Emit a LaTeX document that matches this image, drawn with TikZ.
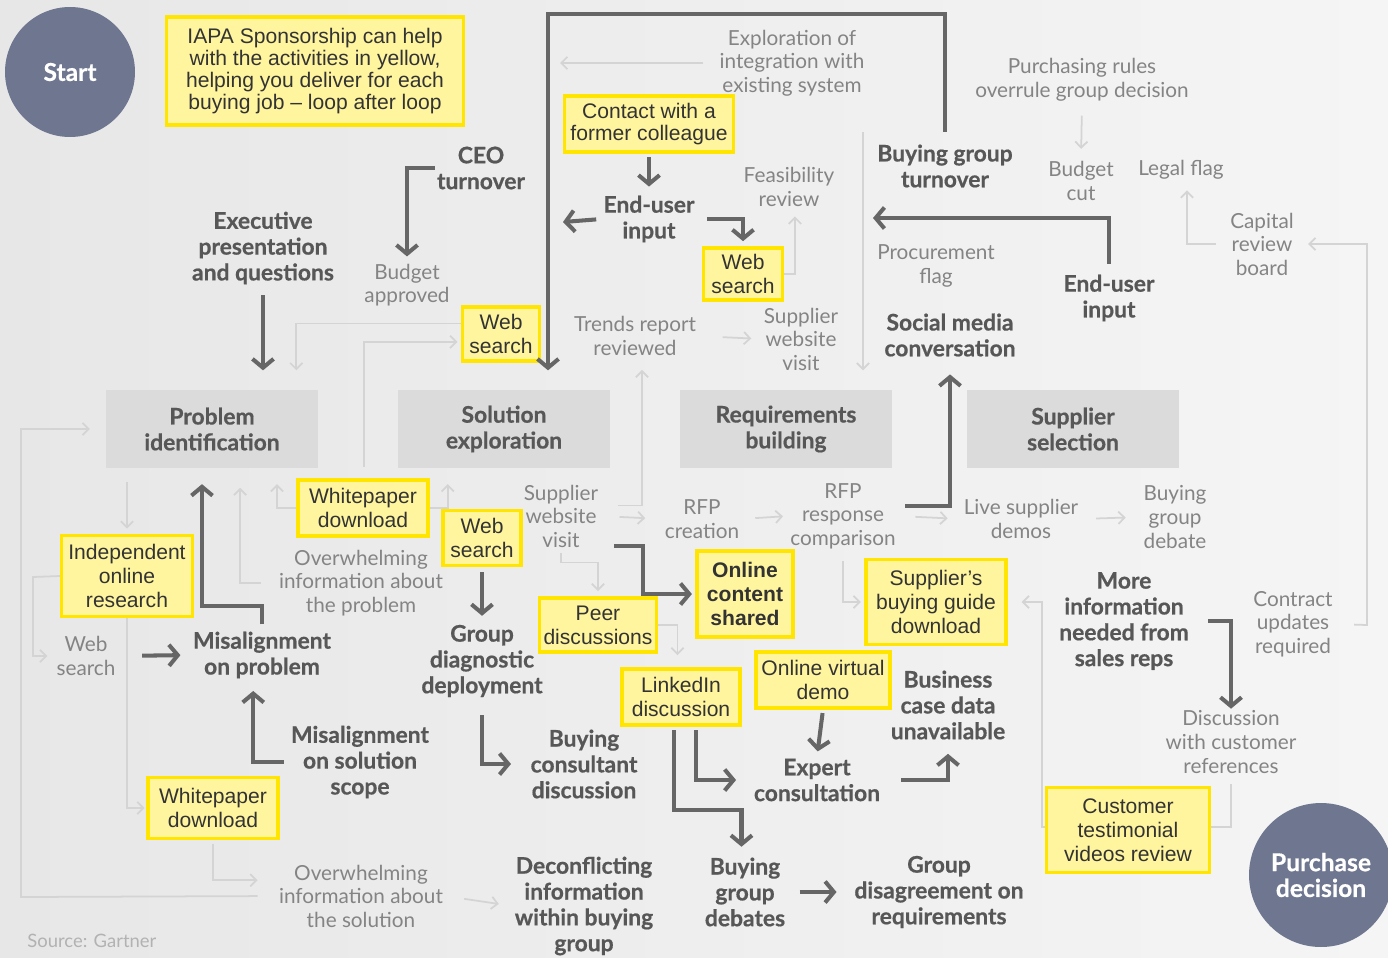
\documentclass[tikz,border=0pt]{standalone}
\usepackage{fontspec}
\setmainfont{Lato}[BoldFeatures={FakeBold=0.6}]
\newfontfamily\boxfont{Liberation Sans}
\usetikzlibrary{arrows.meta, positioning, calc}
\definecolor{BgLeft}{HTML}{E7E7E7}
\definecolor{BgRight}{HTML}{F5F5F5}
\definecolor{TextDark}{HTML}{575757}
\definecolor{TextLight}{HTML}{848484}
\definecolor{ArrowDark}{HTML}{666666}
\definecolor{ArrowFaint}{HTML}{D4D4D4}
\definecolor{StageFill}{HTML}{DBDBDB}
\definecolor{YellowFill}{HTML}{FFF59F}
\definecolor{YellowLine}{HTML}{FFE500}
\definecolor{DotFill}{HTML}{6F7690}
\newcommand{\boldsize}{\fontsize{13}{14.7}\selectfont}
\newcommand{\lightsize}{\fontsize{11.8}{13.4}\selectfont}
\newcommand{\boxsize}{\fontsize{12}{13.6}\selectfont}

\begin{document}
\begin{tikzpicture}[x=0.02cm, y=-0.02cm,
    darr/.style={draw=ArrowDark, line width=2.3pt, -{Straight Barb[length=5pt, width=12pt]}},
    farr/.style={draw=ArrowFaint, line width=1pt, -{Straight Barb[length=3.5pt, width=7pt]}},
    boldlbl/.style={font=\boldsize\bfseries, text=TextDark, align=center, inner sep=1pt},
    lightlbl/.style={font=\lightsize, text=TextLight, align=center, inner sep=1pt},
    stagebox/.style={fill=StageFill, font=\boldsize\bfseries, text=TextDark, align=center,
        minimum width=4.24cm, minimum height=1.56cm},
    yelbox/.style={draw=YellowLine, line width=1.8pt, fill=YellowFill, font=\boxfont\boxsize,
        text=black!80, align=center, inner sep=1pt},
    bigdot/.style={circle, fill=DotFill, text=white, font=\fontsize{14}{14.7}\selectfont\bfseries, align=center},
    srcnote/.style={font=\fontsize{10.5}{12}\selectfont, text=black!30, inner sep=0pt}]
    \useasboundingbox (0,0) rectangle (1388,957);
    \clip (0,0) rectangle (1388,957);
    \fill[left color=BgLeft, right color=BgRight] (0,0) rectangle (1388,957);

    % Start and end
    \node[bigdot, minimum size=2.6cm] (start) at (70,72) {Start};
    \node[bigdot, minimum size=2.88cm] (purchase) at (1321,875) {Purchase\\decision};

    % Stages
    \node[stagebox] (probid) at (212,429) {Problem\\identification};
    \node[stagebox] (solexp) at (504,429) {Solution\\exploration};
    \node[stagebox] (reqb) at (786,429) {Requirements\\building};
    \node[stagebox] (suppsel) at (1073,429) {Supplier\\selection};

    % Activities in yellow
    \node[yelbox, minimum width=5.94cm, minimum height=2.16cm, font=\boxfont\fontsize{12}{12.6}\selectfont] (iapa) at (315,71)
        {IAPA Sponsorship can help\\with the activities in yellow,\\helping you deliver for each\\buying job – loop after loop};
    \node[yelbox, minimum width=3.38cm, minimum height=1.12cm, font=\boxfont\fontsize{12}{12.4}\selectfont] (contact) at (649,124) {Contact with a\\former colleague};
    \node[yelbox, minimum width=1.58cm, minimum height=1.04cm] (web1) at (743,274) {Web\\search};
    \node[yelbox, minimum width=1.54cm, minimum height=1.08cm] (web2) at (501,334) {Web\\search};
    \node[yelbox, minimum width=2.6cm, minimum height=1.12cm] (wp1) at (363,508) {Whitepaper\\download};
    \node[yelbox, minimum width=1.56cm, minimum height=1.1cm] (web3) at (482,538) {Web\\search};
    \node[yelbox, minimum width=2.62cm, minimum height=1.62cm] (indep) at (127,576) {Independent\\online\\research};
    \node[yelbox, minimum width=2.34cm, minimum height=1.08cm] (peer) at (598,625) {Peer\\discussions};
    \node[yelbox, minimum width=1.92cm, minimum height=1.72cm, font=\boxfont\boxsize\bfseries] (ocs) at (745,594) {Online\\content\\shared};
    \node[yelbox, minimum width=2.8cm, minimum height=1.7cm] (suppguide) at (936,602) {Supplier’s\\buying guide\\download};
    \node[yelbox, minimum width=2.68cm, minimum height=1.12cm] (ovdemo) at (823,680) {Online virtual\\demo};
    \node[yelbox, minimum width=2.36cm, minimum height=1.12cm] (linkedin) at (681,697) {LinkedIn\\discussion};
    \node[yelbox, minimum width=2.6cm, minimum height=1.22cm] (wp2) at (213,808) {Whitepaper\\download};

    % Bold events
    \node[boldlbl] (ceo) at (481,168) {CEO\\turnover};
    \node[boldlbl] (exec) at (263,248) {Executive\\presentation\\and questions};
    \node[boldlbl] (euin) at (649,219) {End-user\\input};
    \node[boldlbl] (bgturn) at (945,166) {Buying group\\turnover};
    \node[boldlbl] (euin2) at (1109,298) {End-user\\input};
    \node[boldlbl] (social) at (950,335) {Social media\\conversation};
    \node[boldlbl] (misprob) at (262,655) {Misalignment\\on problem};
    \node[boldlbl] (missol) at (360,762) {Misalignment\\on solution\\scope};
    \node[boldlbl] (grpdiag) at (482,661) {Group\\diagnostic\\deployment};
    \node[boldlbl] (consult) at (584,764) {Buying\\consultant\\discussion};
    \node[boldlbl] (expert) at (817,780) {Expert\\consultation};
    \node[boldlbl] (bizcase) at (948,705) {Business\\case data\\unavailable};
    \node[boldlbl] (moreinfo) at (1124,621) {More\\information\\needed from\\sales reps};
    \node[boldlbl] (deconf) at (584,906) {Deconflicting\\information\\within buying\\group};
    \node[boldlbl] (bgdebates) at (745,892) {Buying\\group\\debates};
    \node[boldlbl] (grpdis) at (939,892) {Group\\disagreement on\\requirements};

    % Light events
    \node[lightlbl] (explor) at (792,63) {Exploration of\\integration with\\existing system};
    \node[lightlbl] (purch) at (1082,80) {Purchasing rules\\overrule group decision};
    \node[lightlbl] (feas) at (789,187) {Feasibility\\review};
    \node[lightlbl] (budapp) at (407,285) {Budget\\approved};
    \node[lightlbl] (budcut) at (1081,181) {Budget\\cut};
    \node[lightlbl] (legal) at (1181,170) {Legal flag};
    \node[lightlbl] (capital) at (1262,244) {Capital\\review\\board};
    \node[lightlbl] (procflag) at (936,266) {Procurement\\flag};
    \node[lightlbl] (trends) at (635,336) {Trends report\\reviewed};
    \node[lightlbl] (svvu) at (801,339) {Supplier\\website\\visit};
    \node[lightlbl] (svvl) at (561,516) {Supplier\\website\\visit};
    \node[lightlbl] (rfpcr) at (702,519) {RFP\\creation};
    \node[lightlbl] (rfpresp) at (843,516) {RFP\\response\\comparison};
    \node[lightlbl] (livedemo) at (1021,519) {Live supplier\\demos};
    \node[lightlbl] (bgdebate) at (1175,517) {Buying\\group\\debate};
    \node[lightlbl] (ovprob) at (361,583) {Overwhelming\\information about\\the problem};
    \node[lightlbl] (websl) at (86,656) {Web\\search};
    \node[lightlbl] (contract) at (1293,624) {Contract\\updates\\required};
    \node[lightlbl] (discref) at (1231,742) {Discussion\\with customer\\references};
    \node[lightlbl] (ovsol) at (361,896) {Overwhelming\\information about\\the solution};
    \node[srcnote, anchor=west] (source) at (27,941) {Source: Gartner};

    % Free ends and bends
    \coordinate (looptop) at (548,14);
    \coordinate (euleft) at (563,222);
    \coordinate (procarr) at (873,218);
    \coordinate (smstart) at (905,506);
    \coordinate (ocsstart) at (614,546);
    \coordinate (ocsbend) at (643,546);
    \coordinate (explarr) at (560,63);
    \coordinate (crbend) at (1367,625);
    \coordinate (reqtop) at (863,132);
    \coordinate (sgbend) at (1042,827);
    \coordinate (llcorner) at (21,897);
    \coordinate (ibend) at (33,577);
    \coordinate (sebl) at (364,467);

    % Faint loops
    \draw[farr, shorten <=8pt] (explor.west) -- (explarr);
    \draw[farr, shorten <=7pt, shorten >=6pt] (purch.south) -- (budcut.north);
    \draw[farr, shorten <=7pt, shorten >=5pt] (capital.west) -| ([xshift=3.4pt]legal.south);
    \draw[farr, shorten <=11pt, shorten >=7pt] (contract.east) -- (crbend) |- (capital.east);
    \draw[farr, shorten >=4.5pt] (web1.east) -| ([xshift=3.4pt]feas.south);
    \draw[farr, shorten >=11pt] (reqtop) -- (reqtop |- reqb.north);
    \draw[farr, shorten <=14pt, shorten >=6pt] (trends.east) -- (svvu.west);
    \draw[farr, shorten <=10pt, shorten >=7pt] ([yshift=6pt]svvl.east) -| ([xshift=4pt]trends.south);
    \draw[farr, shorten <=11pt, shorten >=10pt] (svvl.east) -- (rfpcr.west);
    \draw[farr, shorten <=2pt, shorten >=3pt] (svvl.south) -- ++(0,13) -| (peer.north);
    \draw[farr, shorten <=8pt, shorten >=3pt] (rfpcr.east) -- (rfpresp.west);
    \draw[farr, shorten <=10pt, shorten >=8pt] (rfpresp.east) -- (livedemo.west);
    \draw[farr, shorten <=6pt, shorten >=2pt] (rfpresp.south) |- (suppguide.west);
    \draw[farr, shorten <=9pt, shorten >=9pt] (livedemo.east) -- (bgdebate.west);
    \draw[farr, shorten <=5pt, shorten >=8pt] (discref.south) |- (sgbend) |- (suppguide.east);
    \draw[farr, shorten <=11pt, shorten >=9pt] (ovsol.west) -- (llcorner) |- (probid.west);
    \draw[farr, shorten <=8pt, shorten >=3pt] (probid.south -| indep.north) -- (indep.north);
    \draw[farr, shorten >=4pt] (indep.west) -- (ibend) |- (websl.west);
    \draw[farr, shorten >=1pt] (indep.south) |- (wp2.west);
    \draw[farr, shorten <=2pt, shorten >=11pt] (wp2.south) |- ([yshift=9pt]ovsol.west);
    \draw[farr, shorten <=11pt, shorten >=8pt] (ovsol.east) -- (deconf.west);
    \draw[farr, shorten <=9pt, shorten >=11pt] (ovprob.west) -| ([xshift=16pt]probid.south);
    \draw[farr, shorten >=9pt] (wp1.west) -| ([xshift=37pt]probid.south);
    \draw[farr, shorten >=9pt] (wp1.east) -| ([xshift=-32pt]solexp.south);
    \draw[farr, shorten >=11pt] ([yshift=6pt]web2.west) -| ([xshift=48pt]probid.north);
    \draw[farr, shorten >=2pt] (sebl) |- ([yshift=-4.5pt]web2.west);
    \draw[farr, shorten >=7pt] (peer.east) -| ([xshift=-2pt]linkedin.north);

    % Dark loops
    \draw[darr, shorten >=3pt] (ceo.west) -| (budapp.north);
    \draw[darr, shorten <=5pt, shorten >=11pt] (exec.south) -- (exec.south |- probid.north);
    \draw[darr, shorten <=6pt, shorten >=11pt] (bgturn.north) |- (looptop) -- (looptop |- solexp.north);
    \draw[darr, shorten <=2pt, shorten >=4pt] (contact.south) -- (euin.north);
    \draw[darr, shorten <=3pt] (euin.west) -- (euleft);
    \draw[darr, shorten <=6pt, shorten >=3pt] (euin.east) -| (web1.north);
    \draw[darr, shorten <=5pt] (euin2.north) |- (procarr);
    \draw[darr, shorten >=9pt] (smstart) -| (social.south);
    \draw[darr, shorten <=3pt, shorten >=9pt] (misprob.north) -- ++(0,-24) -| ([xshift=-5.7pt]probid.south);
    \draw[darr, shorten <=14pt, shorten >=6pt] (websl.east) -- (misprob.west);
    \draw[darr, shorten <=3pt, shorten >=6pt] (missol.west) -| ([xshift=-5pt]misprob.south);
    \draw[darr, shorten <=3pt, shorten >=4pt] (web3.south) -- (grpdiag.north);
    \draw[darr, shorten >=2pt] (ocsstart) -- (ocsbend) |- (ocs.west);
    \draw[darr, shorten <=9pt, shorten >=10pt] (grpdiag.south) |- (consult.west);
    \draw[darr, shorten <=2pt, shorten >=9pt] ([xshift=8.5pt]linkedin.south) |- (expert.west);
    \draw[darr, shorten <=2pt, shorten >=5pt] ([xshift=-4pt]linkedin.south) -- ++(0,83) -| ([xshift=-2pt]bgdebates.north);
    \draw[darr, shorten <=2pt, shorten >=3pt] (ovdemo.south) -- (expert.north);
    \draw[darr, shorten <=11pt, shorten >=7pt] (expert.east) -| (bizcase.south);
    \draw[darr, shorten <=7pt, shorten >=9pt] (bgdebates.east) -- (grpdis.west);
    \draw[darr, shorten <=10pt] (moreinfo.east) -| (discref.north);

    % Box over the faint line
    \node[yelbox, minimum width=3.26cm, minimum height=1.7cm] (custvid) at (1128,830) {Customer\\testimonial\\videos review};
\end{tikzpicture}
\end{document}
